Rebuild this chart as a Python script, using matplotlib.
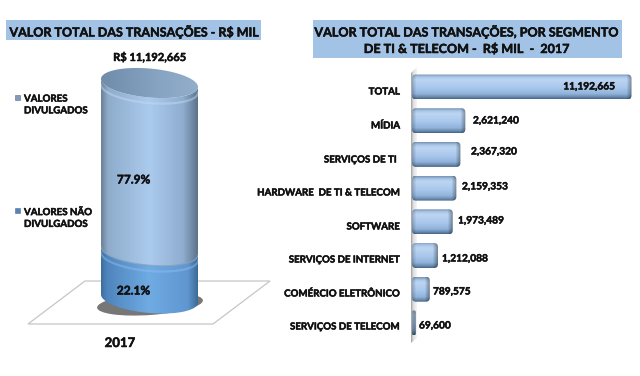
import numpy as np
import matplotlib
matplotlib.use("Agg")
import matplotlib.pyplot as plt
import matplotlib.patheffects as pe
from matplotlib.patches import Rectangle, Polygon, Ellipse, FancyBboxPatch, PathPatch
from matplotlib.path import Path
from matplotlib.colors import to_rgb

plt.rcParams['font.family'] = ['Lato', 'DejaVu Sans']
plt.rcParams['font.weight'] = 'bold'

# ---- data
year_label = "2017"
total_label = "R$ 11,192,665"
share_names = ["VALORES NÃO\nDIVULGADOS", "VALORES\nDIVULGADOS"]
share_values = [22.1, 77.9]
categories = ["TOTAL", "MÍDIA", "SERVIÇOS DE TI", "HARDWARE  DE TI & TELECOM", "SOFTWARE",
              "SERVIÇOS DE INTERNET", "COMÉRCIO ELETRÔNICO", "SERVIÇOS DE TELECOM"]
segment_values = [11192665, 2621240, 2367320, 2159353, 1973489, 1212088, 789575, 69600]

W, H = 640, 376
fig = plt.figure(figsize=(W / 100, H / 100), dpi=100, facecolor='white')


def px_axes(x0, y0, x1, y1, z):
    return fig.add_axes([x0 / W, 1 - y1 / H, (x1 - x0) / W, (y1 - y0) / H], zorder=z)


def ramp(stops, n):
    pos = [s[0] for s in stops]
    cols = np.array([to_rgb(s[1]) for s in stops])
    t = np.linspace(0, 1, n)
    return np.stack([np.interp(t, pos, cols[:, i]) for i in range(3)], axis=1)


# ---- background layer (pixel coordinates)
bg = px_axes(0, 0, W, H, 0)
bg.set_xlim(0, W); bg.set_ylim(H, 0); bg.axis('off')
bg.add_patch(Rectangle((6, 20), 255, 20, fc='#a3c3e6', ec='none'))
bg.add_patch(Rectangle((313, 20), 309, 38, fc='#a3c3e6', ec='none'))
bg.add_patch(Polygon([(28, 324), (213, 324), (270, 281), (85, 281)], closed=True,
                     fc='white', ec='#c6c6c6', lw=0.9))
bg.add_patch(Ellipse((150, 304), 106, 22, angle=-4, fc='#777777', ec='none'))
wall = bg.imshow(ramp([(0, '#a6a6a6'), (0.35, '#dedede'), (1, '#f4f4f4')], 8)[None, :, :],
                 extent=(411, 417, 343, 67), aspect='auto', zorder=2)
wall_patch = Polygon([(411, 73), (417, 67), (417, 338), (411, 343)], closed=True,
                     transform=bg.transData, fc='none', ec='none')
bg.add_patch(wall_patch)
wall.set_clip_path(wall_patch)
bg.set_xlim(0, W); bg.set_ylim(H, 0)

# ---- cylinder, on a 0-100 value scale
PX = 2.155                 # pixels per percentage point
y_base, y_top_ax, y_bot_ax = 298.5, 60, 325
cy = px_axes(101, y_top_ax, 198, y_bot_ax, 2)
cy.axis('off')
ylim = ((y_base - y_bot_ax) / PX, (y_base - y_top_ax) / PX)
a_b = 14.5 / PX
tilt = 8 / PX


def rim(level, t):
    x = 0.5 + 0.5 * np.cos(t)
    y = level + a_b * np.sin(t) - tilt * (x - 0.5)
    return x, y


def segment_path(lo, hi):
    x1, y1 = rim(hi, np.linspace(np.pi, 2 * np.pi, 60))
    x2, y2 = rim(lo, np.linspace(2 * np.pi, np.pi, 60))
    return Polygon(np.column_stack([np.r_[x1, x2], np.r_[y1, y2]]), closed=True,
                   transform=cy.transData, fc='none', ec='none')


def shaded(rows, path, extent, z):
    im = cy.imshow(rows, extent=extent, aspect='auto', zorder=z, interpolation='bilinear')
    cy.add_patch(path)
    im.set_clip_path(path)


pad = 8
lo = 0
side_stops = [
    [(0, '#3f6f9f'), (0.06, '#4f85bd'), (0.5, '#70abe4'), (0.9, '#5f96cf'), (1, '#3d6b98')],
    [(0, '#6d8299'), (0.07, '#8faccb'), (0.5, '#abcbee'), (0.85, '#8fadcf'), (1, '#5e748b')],
]
for k, v in enumerate(share_values):
    hi = lo + v
    base = ramp(side_stops[k], 97)[None, :, :]
    shaded(base, segment_path(lo, hi), (0, 1, lo - a_b - pad, hi + a_b + pad), 3 + k)
    # lighter rim under the top edge of each section
    x, y = rim(hi, np.linspace(np.pi, 2 * np.pi, 60))
    cy.plot(x, y - 2.6, color='#c7dcf5' if k else '#8fc0f0', lw=1.6, alpha=0.45, zorder=5 + k)
    lo = hi
    if k == 0:
        x, y = rim(hi, np.linspace(np.pi, 2 * np.pi, 60))
        cy.plot(x, y, color='#7f9cbc', lw=1.0, alpha=0.8, zorder=6)
t = np.linspace(0, 2 * np.pi, 120)
x, y = rim(100, t)
cap = Polygon(np.column_stack([x, y]), closed=True, transform=cy.transData, fc='none', ec='none')
cap_img = ramp([(0, '#6f8cab'), (0.6, '#87a4c3'), (1, '#93aeca')], 97)[None, :, :]
shaded(cap_img, cap, (0, 1, 100 - 2 * a_b, 100 + 2 * a_b), 8)
cy.set_xlim(0, 1)
cy.set_ylim(*ylim)

# ---- horizontal bars
bx0 = 411
br = px_axes(bx0, 60, W, 345, 2)
br.axis('off')
scale = 217 / segment_values[0]     # pixels per R$ mil
zero = 413
ys = np.arange(len(categories))
row_h = 33.7
first_row = 87
bar_h = 25 / row_h
bars = br.barh(ys, segment_values, height=bar_h, color='none', edgecolor='none')
vert = ramp([(0, '#7d9aba'), (0.1, '#a9c6e8'), (0.22, '#bdd5f2'), (0.55, '#a8c7ec'),
             (0.8, '#92b3da'), (0.93, '#6a8cb0'), (1, '#4c6c8c')], 25)
for b, v in zip(bars, segment_values):
    w_px = v * scale + 2.5
    n = max(int(round(w_px)) + 1, 2)
    img = np.repeat(vert[:, None, :], n, axis=1)
    xs = np.arange(n)
    shade = np.clip((n - 1 - xs) / 5.0, 0, 1) * 0.35 + 0.65
    left = np.clip(xs / 4.0, 0, 1) * 0.2 + 0.8
    img = img * (shade * left)[None, :, None]
    x0 = -1 / scale
    x1 = x0 + w_px / scale
    yc = b.get_y() + b.get_height() / 2
    im = br.imshow(img, extent=(x0, x1, yc + bar_h / 2, yc - bar_h / 2), aspect='auto',
                   zorder=3, interpolation='bilinear')
    rad = min(4, w_px / 2)
    # rounded outline built in pixel units, then mapped to the data scale
    sx, sy = 1 / scale, 1 / row_h
    box = FancyBboxPatch((0, 0), w_px, 25, boxstyle=f"round,pad=0,rounding_size={rad}", fc='none', ec='none')
    verts = box.get_path().vertices
    verts = np.column_stack([x0 + verts[:, 0] * sx, yc - bar_h / 2 + verts[:, 1] * sy])
    clip = PathPatch(Path(verts, box.get_path().codes), transform=br.transData, fc='none', ec='none')
    br.add_patch(clip)
    im.set_clip_path(clip)
br.set_xlim((bx0 - zero) / scale, (W - zero) / scale)
br.set_ylim(ys[-1] + (345 - (first_row + 7 * row_h)) / row_h, -(first_row - 60) / row_h)

# ---- text layer (pixel coordinates)
tx = px_axes(0, 0, W, H, 10)
tx.set_xlim(0, W); tx.set_ylim(H, 0); tx.axis('off'); tx.patch.set_alpha(0)
ink = '#111111'
heavy = [pe.withStroke(linewidth=0.35, foreground=ink)]


def label(x, y, s, size, ha='center'):
    tx.text(x, y, s, ha=ha, va='center', fontsize=size, color=ink, linespacing=1.4, path_effects=heavy)


label(133.5, 31.5, "VALOR TOTAL DAS TRANSAÇÕES - R$ MIL", 9.0)
label(467.5, 31.5, "VALOR TOTAL DAS TRANSAÇÕES, POR SEGMENTO", 9.05)
label(467.5, 49, "DE TI & TELECOM -  R$ MIL  -  2017", 9.05)
label(150, 57, total_label, 8)
label(120, 343, year_label, 9.5)
label(133.5, 180, f"{share_values[1]:.1f}%", 8.6)
label(133.5, 291, f"{share_values[0]:.1f}%", 8.6)

for (name, ly, col) in [(share_names[1], 105, '#7f9cbc'), (share_names[0], 218.5, '#4f86c0')]:
    tx.add_patch(Rectangle((15, ly - 10.5), 5, 5, fc=col, ec='#5a6f86', lw=0.4))
    label(24, ly, name, 7.0, ha='left')

cat_y = [92, 126, 160, 193, 227, 260, 294, 327]
cat_x = [400, 400, 397, 400, 400, 400, 400, 400]
for c, xx, yy in zip(categories, cat_x, cat_y):
    label(xx, yy, c, 7.0, ha='right')

val_x = [615, 473, 471, 462, 458, 442, 433, 419]
val_y = [87, 121, 152, 187, 221, 259, 292, 326]
for i, (v, xx, yy) in enumerate(zip(segment_values, val_x, val_y)):
    label(xx, yy, f"{v:,}", 7.3, ha='right' if i == 0 else 'left')

fig.savefig("out.png", dpi=100, facecolor='white')
